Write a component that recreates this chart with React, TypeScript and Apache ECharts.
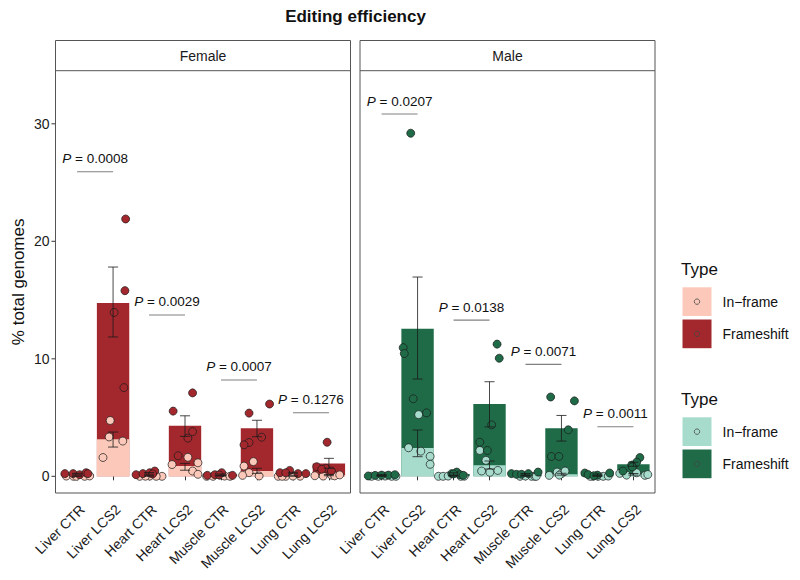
import React, { useEffect, useRef } from 'react';
import * as echarts from 'echarts';

const FONT = '"Liberation Sans", Arial, Helvetica, sans-serif';

const categories = ['Liver CTR', 'Liver LCS2', 'Heart CTR', 'Heart LCS2', 'Muscle CTR', 'Muscle LCS2', 'Lung CTR', 'Lung LCS2'];
const yTicks = [0, 10, 20, 30];

// Female
const femaleFrameshiftMean = [0.22, 14.75, 0.25, 4.3, 0.15, 4.08, 0.28, 1.1];
const femaleInframeMean = [0.02, 3.15, 0.03, 0.87, 0.04, 0.45, 0.03, 0.1];
const femaleFrameshiftErr = [[0.18, 0.26], [11.86, 17.81], [0.18, 0.32], [3.4, 5.15], [0.1, 0.2], [3.37, 4.77], [0.22, 0.34], [0.68, 1.53]];
const femaleInframeErr = [[0.01, 0.03], [2.49, 3.77], [0.02, 0.04], [0.52, 1.1], [0.02, 0.06], [0.25, 0.68], [0.02, 0.04], [0.05, 0.16]];
const femaleFrameshiftPts = [
  [0.23, 0.23, 0.14, 0.31, 0.23], [21.9, 15.8, 13.95, 7.55], [0.14, 0.23, 0.31, 0.45, 0.2], [7.1, 5.55, 3.8, 3.25, 1.75],
  [0.08, 0.14, 0.31, 0.08, 0.12], [6.15, 5.38, 3.33, 2.88, 2.68], [0.31, 0.5, 0.23, 0.23, 0.3], [2.9, 0.82, 0.68, 0.6, 0.45],
];
const femaleFrameshiftJitter = [
  [-0.34, -0.11, 0.07, 0.25, 0.3], [0.35, 0.33, 0.03, 0.3], [-0.36, -0.17, 0.02, 0.16, 0.1], [0.21, -0.33, 0.21, 0.08, -0.19],
  [-0.38, -0.17, 0.02, 0.32, -0.05], [0.35, -0.22, 0.13, -0.22, -0.36], [-0.36, -0.09, 0.14, 0.36, -0.2], [-0.05, -0.34, -0.09, -0.2, 0.07],
];
const femaleInframePts = [
  [0.02, 0, 0, 0, 0.03], [4.75, 3.35, 3.0, 1.6], [0, 0.02, 0, 0.01, 0], [1.62, 1.15, 1.0, 0.45, 0.17],
  [0, 0, 0.1, 0.02, 0], [1.25, 0.87, 0.31, 0.03, 0.08], [0, 0, 0.02, 0.01, 0], [0.05, 0.02, 0.1, 0.04, 0.12],
];
const femaleInframeJitter = [
  [-0.3, -0.1, -0.02, 0.21, 0.35], [-0.08, -0.11, 0.27, -0.28], [-0.26, 0.02, 0.36, -0.1, 0.2], [0.08, 0.36, -0.36, 0.21, 0.36],
  [-0.4, -0.22, -0.03, 0.1, 0.25], [-0.1, -0.36, -0.22, 0.06, -0.4], [-0.41, -0.2, 0.0, 0.2, -0.3], [-0.39, -0.16, 0.07, 0.16, 0.3],
];
const femalePStart = [0, 2, 4, 6];
const femalePY = [25.92, 13.73, 8.2, 5.41];
const femalePLabels = ['0.0008', '0.0029', '0.0007', '0.1276'];

// Male
const maleFrameshiftMean = [0.12, 12.55, 0.2, 6.15, 0.18, 4.1, 0.15, 1.02];
const maleInframeMean = [0.02, 2.4, 0.03, 0.95, 0.03, 0.18, 0.02, 0.17];
const maleFrameshiftErr = [[0.08, 0.16], [8.28, 16.96], [0.1, 0.3], [4.2, 8.05], [0.12, 0.24], [3.0, 5.18], [0.1, 0.2], [0.85, 1.2]];
const maleInframeErr = [[0.01, 0.03], [1.67, 3.94], [0.02, 0.05], [0.62, 1.3], [0.02, 0.05], [0.1, 0.26], [0.01, 0.03], [0.1, 0.24]];
const maleFrameshiftPts = [
  [0.03, 0.08, 0.1, 0.1, 0.14], [29.2, 10.95, 10.45, 6.6, 5.4], [0.23, 0.36, 0.14, 0.08, 0.2], [11.25, 10.05, 4.38, 2.9, 2.2],
  [0.23, 0.17, 0.17, 0.23, 0.36], [6.75, 6.42, 3.96, 1.69, 1.69], [0.28, 0.15, 0.28, 0.1, 0.05], [1.6, 1.2, 0.95, 0.8, 0.45],
];
const maleFrameshiftJitter = [
  [-0.37, -0.18, 0.0, 0.19, 0.37], [-0.19, -0.4, -0.37, -0.12, 0.25], [-0.05, 0.09, 0.18, 0.27, 0.0], [0.21, 0.27, 0.06, -0.27, -0.06],
  [-0.39, -0.25, -0.11, 0.08, 0.35], [-0.3, 0.36, 0.19, -0.28, -0.07], [-0.35, -0.26, 0.34, 0.0, -0.1], [0.18, 0.09, -0.05, -0.03, -0.29],
];
const maleInframePts = [
  [0, 0, 0, 0, 0.02], [5.25, 2.43, 2.14, 1.7, 1.02], [0, 0, 0.02, 0, 0.01], [2.2, 1.36, 0.45, 0.5, 0.34],
  [0, 0, 0, 0.02, 0], [0.08, 0.36, 0.23, 0.1, 0.45], [0, 0, 0, 0.02, 0], [0.25, 0.1, 0.08, 0.3, 0.15],
];
const maleInframeJitter = [
  [-0.28, -0.09, 0.28, 0.4, 0.1], [0.03, -0.25, 0.09, 0.35, 0.35], [-0.42, -0.29, -0.15, 0.2, 0.3], [-0.27, -0.1, -0.22, 0.23, 0.01],
  [-0.15, 0.17, 0.26, 0.0, 0.3], [-0.34, -0.12, 0.0, -0.06, 0.1], [-0.12, 0.02, 0.16, 0.3, -0.2], [-0.38, -0.19, 0.32, 0.09, 0.4],
];
const malePStart = [0, 2, 4, 6];
const malePY = [30.83, 13.29, 9.53, 4.22];
const malePLabels = ['0.0207', '0.0138', '0.0071', '0.0011'];

const legendLabels = ['In\u2212frame', 'Frameshift'];

const RED_DARK = '#A3282E';
const RED_LIGHT = '#FBC8B9';
const GREEN_DARK = '#1F6B48';
const GREEN_LIGHT = '#A7DCCD';

const Y_MIN = -1.42;
const Y_MAX = 34.52;

function toPoints(vals: number[][], jit: number[][]) {
  const out: number[][] = [];
  vals.forEach((arr, i) => arr.forEach((v, j) => out.push([i + jit[i][j], v])));
  return out;
}

function errSeries(err: number[][], xIdx: number, yIdx: number) {
  return {
    type: 'custom',
    xAxisIndex: xIdx,
    yAxisIndex: yIdx,
    z: 4,
    silent: true,
    data: err.map((d, i) => [i, d[0], d[1]]),
    renderItem: (params: any, api: any) => {
      const x = api.value(0);
      const lo = api.coord([x, api.value(1)]);
      const hi = api.coord([x, api.value(2)]);
      const l = api.coord([x - 0.14, 0])[0];
      const r = api.coord([x + 0.14, 0])[0];
      const st = { stroke: '#1a1a1a', lineWidth: 0.8 };
      return {
        type: 'group',
        children: [
          { type: 'line', shape: { x1: lo[0], y1: lo[1], x2: hi[0], y2: hi[1] }, style: st },
          { type: 'line', shape: { x1: l, y1: hi[1], x2: r, y2: hi[1] }, style: st },
          { type: 'line', shape: { x1: l, y1: lo[1], x2: r, y2: lo[1] }, style: st },
        ],
      };
    },
  };
}

function pSeries(starts: number[], ys: number[], labels: string[], xIdx: number, yIdx: number) {
  return {
    type: 'custom',
    xAxisIndex: xIdx,
    yAxisIndex: yIdx,
    z: 6,
    silent: true,
    data: starts.map((s, i) => [s, s + 1, ys[i]]),
    renderItem: (params: any, api: any) => {
      const a = api.coord([api.value(0), api.value(2)]);
      const b = api.coord([api.value(1), api.value(2)]);
      const lab = labels[params.dataIndex];
      return {
        type: 'group',
        children: [
          { type: 'line', shape: { x1: a[0], y1: a[1], x2: b[0], y2: b[1] }, style: { stroke: '#808080', lineWidth: 1.1 } },
          {
            type: 'text',
            x: (a[0] + b[0]) / 2,
            y: a[1] - 13,
            style: {
              text: '{i|P}{n| = ' + lab + '}',
              align: 'center',
              verticalAlign: 'middle',
              rich: {
                i: { fontStyle: 'italic', fontSize: 13.5, fontFamily: FONT, fill: '#111' },
                n: { fontSize: 13.5, fontFamily: FONT, fill: '#111' },
              },
            },
          },
        ],
      };
    },
  };
}

// y-axis tick marks, placed through the y scale of the frame grid
function yTickSeries() {
  return {
    type: 'custom',
    xAxisIndex: 4,
    yAxisIndex: 2,
    silent: true,
    clip: false,
    data: yTicks.map((v) => [-0.5, v]),
    renderItem: (params: any, api: any) => {
      const p = api.coord([api.value(0), api.value(1)]);
      return { type: 'line', shape: { x1: p[0] - 4, y1: p[1], x2: p[0], y2: p[1] }, style: { stroke: '#333', lineWidth: 1 } };
    },
  };
}

function scatterSeries(pts: number[][], fill: string, xIdx: number, yIdx: number, z: number) {
  return {
    type: 'scatter',
    xAxisIndex: xIdx,
    yAxisIndex: yIdx,
    z,
    symbol: 'circle',
    symbolSize: 8,
    silent: true,
    itemStyle: { color: fill, borderColor: '#1a1a1a', borderWidth: 0.7, opacity: 1 },
    data: pts,
  };
}

function barSeries(vals: number[], color: string, xIdx: number, yIdx: number) {
  return {
    type: 'bar',
    xAxisIndex: xIdx,
    yAxisIndex: yIdx,
    barWidth: '90%',
    barGap: '-100%',
    silent: true,
    itemStyle: { color },
    data: vals,
  };
}

function legendBlock(top: number, light: string, dark: string) {
  const els: any[] = [
    { type: 'text', x: 681, y: top, style: { text: 'Type', font: '17px ' + FONT, fill: '#111', verticalAlign: 'middle' } },
  ];
  [light, dark].forEach((c, k) => {
    const ky = top + 18.3 + k * 32.2;
    els.push({ type: 'rect', shape: { x: 682.5, y: ky, width: 29, height: 28.7 }, style: { fill: c } });
    els.push({ type: 'circle', shape: { cx: 697, cy: ky + 14.35, r: 2.7 }, style: { fill: c, stroke: '#444', lineWidth: 0.8 } });
    els.push({ type: 'text', x: 722.5, y: ky + 14.8, style: { text: legendLabels[k], font: '14px ' + FONT, fill: '#111', verticalAlign: 'middle' } });
  });
  return els;
}

const gridTop = 70.7;
const gridH = 493 - 70.7;

const catAxis = (gi: number) => ({
  type: 'category',
  gridIndex: gi,
  data: categories,
  axisLine: { show: false },
  axisTick: { show: true, alignWithLabel: true, length: 4, lineStyle: { color: '#333', width: 1 } },
  axisLabel: { rotate: 45, interval: 0, fontSize: 14, fontFamily: FONT, color: '#1a1a1a', margin: 9, verticalAlign: 'top' },
  splitLine: { show: false },
});
const valXAxis = (gi: number) => ({ type: 'value', gridIndex: gi, min: -0.5, max: 7.5, show: false });

const option: any = {
  animation: false,
  backgroundColor: '#ffffff',
  grid: [
    { left: 59.1, top: gridTop, width: 287.8, height: gridH },
    { left: 363.6, top: gridTop, width: 287.8, height: gridH },
    { left: 55.5, top: gridTop, width: 295, height: gridH },
  ],
  xAxis: [catAxis(0), catAxis(1), valXAxis(0), valXAxis(1), valXAxis(2)],
  yAxis: [
    { type: 'value', gridIndex: 0, min: Y_MIN, max: Y_MAX, show: false, splitLine: { show: false } },
    { type: 'value', gridIndex: 1, min: Y_MIN, max: Y_MAX, show: false, splitLine: { show: false } },
    {
      type: 'value', gridIndex: 2, min: Y_MIN, max: Y_MAX,
      axisLine: { show: false }, splitLine: { show: false },
      axisTick: { show: false },
      axisLabel: { customValues: yTicks, fontSize: 14, fontFamily: FONT, color: '#1a1a1a', margin: 6 },
      name: '% total genomes', nameLocation: 'middle', nameGap: 29, nameRotate: 90,
      nameTextStyle: { fontSize: 17, fontFamily: FONT, color: '#111' },
    },
  ],
  series: [
    barSeries(femaleFrameshiftMean, RED_DARK, 0, 0),
    barSeries(femaleInframeMean, RED_LIGHT, 0, 0),
    barSeries(maleFrameshiftMean, GREEN_DARK, 1, 1),
    barSeries(maleInframeMean, GREEN_LIGHT, 1, 1),
    scatterSeries(toPoints(femaleInframePts, femaleInframeJitter), RED_LIGHT, 2, 0, 3),
    scatterSeries(toPoints(femaleFrameshiftPts, femaleFrameshiftJitter), RED_DARK, 2, 0, 3),
    scatterSeries(toPoints(maleInframePts, maleInframeJitter), GREEN_LIGHT, 3, 1, 3),
    scatterSeries(toPoints(maleFrameshiftPts, maleFrameshiftJitter), GREEN_DARK, 3, 1, 3),
    errSeries(femaleFrameshiftErr, 2, 0),
    errSeries(femaleInframeErr, 2, 0),
    errSeries(maleFrameshiftErr, 3, 1),
    errSeries(maleInframeErr, 3, 1),
    pSeries(femalePStart, femalePY, femalePLabels, 2, 0),
    pSeries(malePStart, malePY, malePLabels, 3, 1),
    yTickSeries(),
  ],
  graphic: {
    elements: [
      { type: 'text', x: 355.5, y: 16.5, z: 20, style: { text: 'Editing efficiency', font: 'bold 17px ' + FONT, fill: '#111', align: 'center', verticalAlign: 'middle' } },
      { type: 'rect', z: 20, shape: { x: 55.5, y: 40.5, width: 295, height: 452.5 }, style: { fill: 'none', stroke: '#555', lineWidth: 1 } },
      { type: 'rect', z: 20, shape: { x: 360, y: 40.5, width: 295, height: 452.5 }, style: { fill: 'none', stroke: '#555', lineWidth: 1 } },
      { type: 'line', z: 20, shape: { x1: 55.5, y1: 70.7, x2: 350.5, y2: 70.7 }, style: { stroke: '#555', lineWidth: 1 } },
      { type: 'line', z: 20, shape: { x1: 360, y1: 70.7, x2: 655, y2: 70.7 }, style: { stroke: '#555', lineWidth: 1 } },
      { type: 'text', x: 203, y: 56, z: 20, style: { text: 'Female', font: '14px ' + FONT, fill: '#1a1a1a', align: 'center', verticalAlign: 'middle' } },
      { type: 'text', x: 507.5, y: 56, z: 20, style: { text: 'Male', font: '14px ' + FONT, fill: '#1a1a1a', align: 'center', verticalAlign: 'middle' } },
      ...legendBlock(269, RED_LIGHT, RED_DARK),
      ...legendBlock(399, GREEN_LIGHT, GREEN_DARK),
    ],
  },
};

export default function App() {
  const ref = useRef<HTMLDivElement>(null);
  useEffect(() => {
    document.body.style.margin = '0';
    const chart = echarts.init(ref.current!, null, { renderer: 'svg' });
    chart.setOption(option);
    return () => chart.dispose();
  }, []);
  return <div ref={ref} style={{ width: 800, height: 580 }} />;
}
